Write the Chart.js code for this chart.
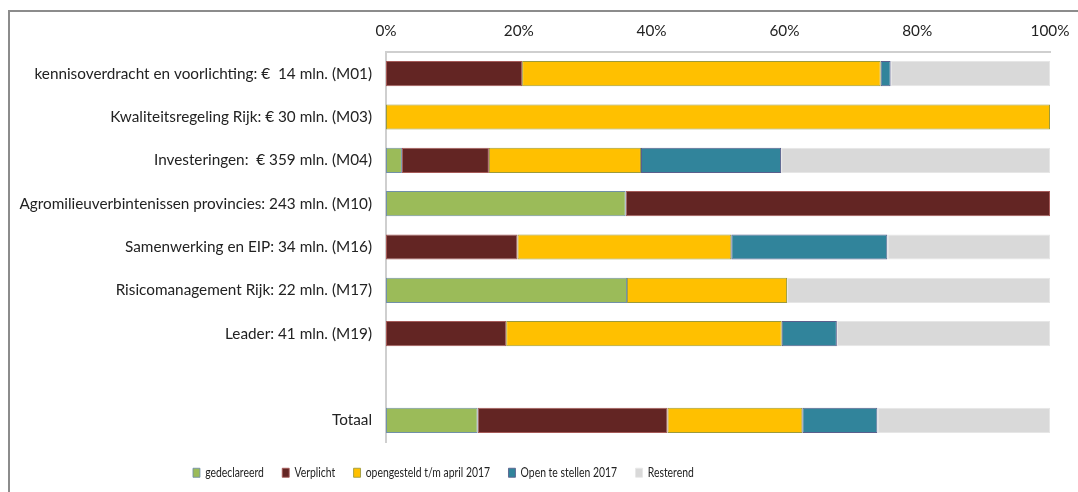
<!DOCTYPE html>
<html>
<head>
<meta charset="utf-8">
<script src="https://cdn.jsdelivr.net/npm/chart.js@4"></script>
<style>
  body { margin: 0; background: #fff; }
  #frame { position: absolute; left: 8px; top: 10px; width: 1080px; height: 490px;
           border-left: 2px solid #8c8c8c; border-top: 2px solid #8c8c8c; }
  #wrap { position: absolute; left: 0; top: 0; width: 1078px; height: 492px; }
</style>
</head>
<body>
<div id="frame"></div>
<div id="wrap"><canvas id="myChart"></canvas></div>
<script>
// categories (empty row between M19 and Totaal)
const categories = [
    'kennisoverdracht en voorlichting: €  14 mln. (M01)',
    'Kwaliteitsregeling Rijk: € 30 mln. (M03)',
    'Investeringen:  € 359 mln. (M04)',
    'Agromilieuverbintenissen provincies: 243 mln. (M10)',
    'Samenwerking en EIP: 34 mln. (M16)',
    'Risicomanagement Rijk: 22 mln. (M17)',
    'Leader: 41 mln. (M19)',
    '',
    'Totaal'
];

// shares in %
const gedeclareerd  = [0,    0,   2.4,  36.1, 0,    36.3, 0,    null, 13.8];
const verplicht     = [20.5, 0,   13.1, 63.9, 19.8, 0,    18.1, null, 28.6];
const opengesteld   = [54.0, 100, 22.9, 0,    32.2, 24.1, 41.5, null, 20.3];
const openTeStellen = [1.5,  0,   21.1, 0,    23.5, 0,    8.3,  null, 11.3];
const resterend     = [24.0, 0,   40.5, 0,    24.5, 39.6, 32.1, null, 26.0];

const xTicks = [0, 20, 40, 60, 80, 100];

const labelFont = "Lato, 'Open Sans', sans-serif";

function ds(label, data, fill, border) {
    return {
        label: label,
        data: data,
        backgroundColor: fill,
        borderColor: border,
        borderWidth: 1,
        borderSkipped: false,
        categoryPercentage: 1,
        barPercentage: 0.58
    };
}

// legend: fixed height, condensed look, placed like the original
const LEGEND_X = 193;
const legendPlace = {
    id: 'legendPlace',
    beforeLayout(chart) {
        const lg = chart.legend;
        if (lg && !lg._fixed) {
            const fit = lg.fit;
            lg.fit = function () { fit.call(this); this.height = 50; };
            const draw = lg.draw;
            lg.draw = function () {
                const c = this.ctx;
                c.save();
                c.translate(LEGEND_X, 0);
                c.scale(0.77, 1);
                c.translate(-LEGEND_X, 0);
                draw.call(this);
                c.restore();
            };
            lg._fixed = true;
        }
    },
    afterLayout(chart) {
        const lg = chart.legend;
        const w = lg.right - lg.left;
        lg.left = LEGEND_X - 24;
        lg.right = lg.left + w;
    }
};

const ctx = document.getElementById('myChart').getContext('2d');

const myChart = new Chart(ctx, {
    type: 'bar',
    data: {
        labels: categories,
        datasets: [
            ds('gedeclareerd', gedeclareerd, '#9BBB59', '#7190a8'),
            ds('Verplicht', verplicht, '#632523', '#a55a58'),
            ds('opengesteld t/m april 2017', opengesteld, '#FFC000', '#9c9a3c'),
            ds('Open te stellen 2017', openTeStellen, '#31849B', '#5a5f8c'),
            ds('Resterend', resterend, '#D9D9D9', '#e6e6e6')
        ]
    },
    options: {
        indexAxis: 'y',
        responsive: true,
        maintainAspectRatio: false,
        animation: false,
        layout: { padding: { left: 0, right: 28, top: 16, bottom: 0 } },
        scales: {
            x: {
                position: 'top',
                stacked: true,
                min: 0,
                max: 100,
                afterBuildTicks: (scale) => { scale.ticks = xTicks.map(v => ({ value: v })); },
                afterFit: (scale) => { scale.height = 36; scale.paddingRight = 0; },
                grid: { display: false, drawTicks: false },
                border: { display: true, color: '#cfcfcf', width: 2 },
                ticks: {
                    padding: 12,
                    color: '#222',
                    font: { family: labelFont, size: 15.3 },
                    callback: (v) => v + '%'
                }
            },
            y: {
                stacked: true,
                afterFit: (scale) => { scale.width = 386; },
                grid: { display: false, drawTicks: false },
                border: { display: true, color: '#cfcfcf', width: 2 },
                ticks: {
                    padding: 14,
                    color: '#222',
                    autoSkip: false,
                    font: { family: labelFont, size: 15.3 }
                }
            }
        },
        plugins: {
            tooltip: { enabled: false },
            legend: {
                position: 'bottom',
                align: 'start',
                labels: {
                    boxWidth: 9,
                    boxHeight: 9,
                    padding: 24,
                    color: '#222',
                    font: { family: labelFont, size: 13.5 }
                }
            }
        }
    },
    plugins: [legendPlace]
});
</script>
</body>
</html>
